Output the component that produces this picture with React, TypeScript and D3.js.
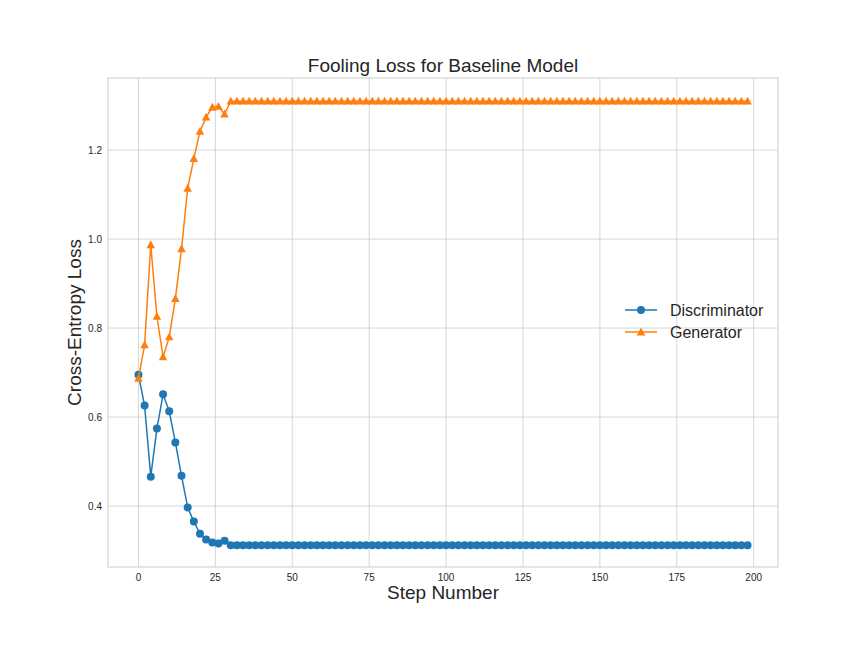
import React from 'react';
import * as d3 from 'd3';

const steps: number[] = [
  0, 2, 4, 6, 8, 10, 12, 14, 16, 18, 20, 22, 24, 26, 28, 30, 32, 34, 36, 38,
  40, 42, 44, 46, 48, 50, 52, 54, 56, 58, 60, 62, 64, 66, 68, 70, 72, 74, 76, 78,
  80, 82, 84, 86, 88, 90, 92, 94, 96, 98, 100, 102, 104, 106, 108, 110, 112, 114, 116, 118,
  120, 122, 124, 126, 128, 130, 132, 134, 136, 138, 140, 142, 144, 146, 148, 150, 152, 154, 156, 158,
  160, 162, 164, 166, 168, 170, 172, 174, 176, 178, 180, 182, 184, 186, 188, 190, 192, 194, 196, 198,
];

const discriminator: number[] = [
  0.695, 0.626, 0.466, 0.574, 0.651, 0.613, 0.543, 0.468, 0.397, 0.365, 0.338, 0.325, 0.318, 0.316, 0.322, 0.312, 0.312, 0.312, 0.312, 0.312,
  0.312, 0.312, 0.312, 0.312, 0.312, 0.312, 0.312, 0.312, 0.312, 0.312, 0.312, 0.312, 0.312, 0.312, 0.312, 0.312, 0.312, 0.312, 0.312, 0.312,
  0.312, 0.312, 0.312, 0.312, 0.312, 0.312, 0.312, 0.312, 0.312, 0.312, 0.312, 0.312, 0.312, 0.312, 0.312, 0.312, 0.312, 0.312, 0.312, 0.312,
  0.312, 0.312, 0.312, 0.312, 0.312, 0.312, 0.312, 0.312, 0.312, 0.312, 0.312, 0.312, 0.312, 0.312, 0.312, 0.312, 0.312, 0.312, 0.312, 0.312,
  0.312, 0.312, 0.312, 0.312, 0.312, 0.312, 0.312, 0.312, 0.312, 0.312, 0.312, 0.312, 0.312, 0.312, 0.312, 0.312, 0.312, 0.312, 0.312, 0.312,
];

const generator: number[] = [
  0.687, 0.762, 0.987, 0.826, 0.735, 0.780, 0.866, 0.978, 1.114, 1.181, 1.242, 1.274, 1.296, 1.298, 1.281, 1.31, 1.31, 1.31, 1.31, 1.31,
  1.31, 1.31, 1.31, 1.31, 1.31, 1.31, 1.31, 1.31, 1.31, 1.31, 1.31, 1.31, 1.31, 1.31, 1.31, 1.31, 1.31, 1.31, 1.31, 1.31,
  1.31, 1.31, 1.31, 1.31, 1.31, 1.31, 1.31, 1.31, 1.31, 1.31, 1.31, 1.31, 1.31, 1.31, 1.31, 1.31, 1.31, 1.31, 1.31, 1.31,
  1.31, 1.31, 1.31, 1.31, 1.31, 1.31, 1.31, 1.31, 1.31, 1.31, 1.31, 1.31, 1.31, 1.31, 1.31, 1.31, 1.31, 1.31, 1.31, 1.31,
  1.31, 1.31, 1.31, 1.31, 1.31, 1.31, 1.31, 1.31, 1.31, 1.31, 1.31, 1.31, 1.31, 1.31, 1.31, 1.31, 1.31, 1.31, 1.31, 1.31,
];

const xTicks = [0, 25, 50, 75, 100, 125, 150, 175, 200];
const yTicks = [0.4, 0.6, 0.8, 1.0, 1.2];

const W = 864, H = 648;
const L = 108, R = 778, T = 78, B = 567;
const font = 'Liberation Sans, Arial, sans-serif';

export default function App() {
  const x = d3.scaleLinear().domain([-9.9, 207.9]).range([L, R]);
  const y = d3.scaleLinear().domain([0.263, 1.362]).range([B, T]);
  const line = (vals: number[]) =>
    d3.line<number>().x((_, i) => x(steps[i])).y(d => y(d))(vals) || '';
  const tri = (cx: number, cy: number, s: number) =>
    `M${cx},${cy - s}L${cx + s * 0.95},${cy + s * 0.75}L${cx - s * 0.95},${cy + s * 0.75}Z`;
  const blue = '#1f77b4', orange = '#ff7f0e';

  return (
    <svg width={W} height={H} style={{ position: 'absolute', left: 0, top: 0 }} fontFamily={font}>
      <rect width={W} height={H} fill="#fff" />
      {xTicks.map(t => (
        <g key={'x' + t}>
          <line x1={x(t)} x2={x(t)} y1={T} y2={B} stroke="#cccccc" strokeWidth={0.8} />
          <text x={x(t)} y={B + 14} fontSize={10} textAnchor="middle" fill="#262626">{t}</text>
        </g>
      ))}
      {yTicks.map(t => (
        <g key={'y' + t}>
          <line x1={L} x2={R} y1={y(t)} y2={y(t)} stroke="#cccccc" strokeWidth={0.8} />
          <text x={L - 6} y={y(t) + 3.5} fontSize={10} textAnchor="end" fill="#262626">{t.toFixed(1)}</text>
        </g>
      ))}
      <rect x={L} y={T} width={R - L} height={B - T} fill="none" stroke="#cccccc" strokeWidth={1} />
      <path d={line(discriminator)} fill="none" stroke={blue} strokeWidth={1.5} />
      {discriminator.map((v, i) => (
        <circle key={'d' + i} cx={x(steps[i])} cy={y(v)} r={4} fill={blue} />
      ))}
      <path d={line(generator)} fill="none" stroke={orange} strokeWidth={1.5} />
      {generator.map((v, i) => (
        <path key={'g' + i} d={tri(x(steps[i]), y(v), 4.5)} fill={orange} />
      ))}
      <text x={(L + R) / 2} y={T - 6} fontSize={19} textAnchor="middle" fill="#262626">Fooling Loss for Baseline Model</text>
      <text x={(L + R) / 2} y={B + 32} fontSize={19} textAnchor="middle" fill="#262626">Step Number</text>
      <text transform={`translate(81,${(T + B) / 2}) rotate(-90)`} fontSize={19} textAnchor="middle" fill="#262626">Cross-Entropy Loss</text>
      <g transform="translate(625,310)">
        <line x1={0} x2={32} y1={0} y2={0} stroke={blue} strokeWidth={1.5} />
        <circle cx={16} cy={0} r={4} fill={blue} />
        <text x={45} y={5.5} fontSize={16} fill="#262626">Discriminator</text>
        <line x1={0} x2={32} y1={22} y2={22} stroke={orange} strokeWidth={1.5} />
        <path d={tri(16, 22, 4.5)} fill={orange} />
        <text x={45} y={27.5} fontSize={16} fill="#262626">Generator</text>
      </g>
    </svg>
  );
}
